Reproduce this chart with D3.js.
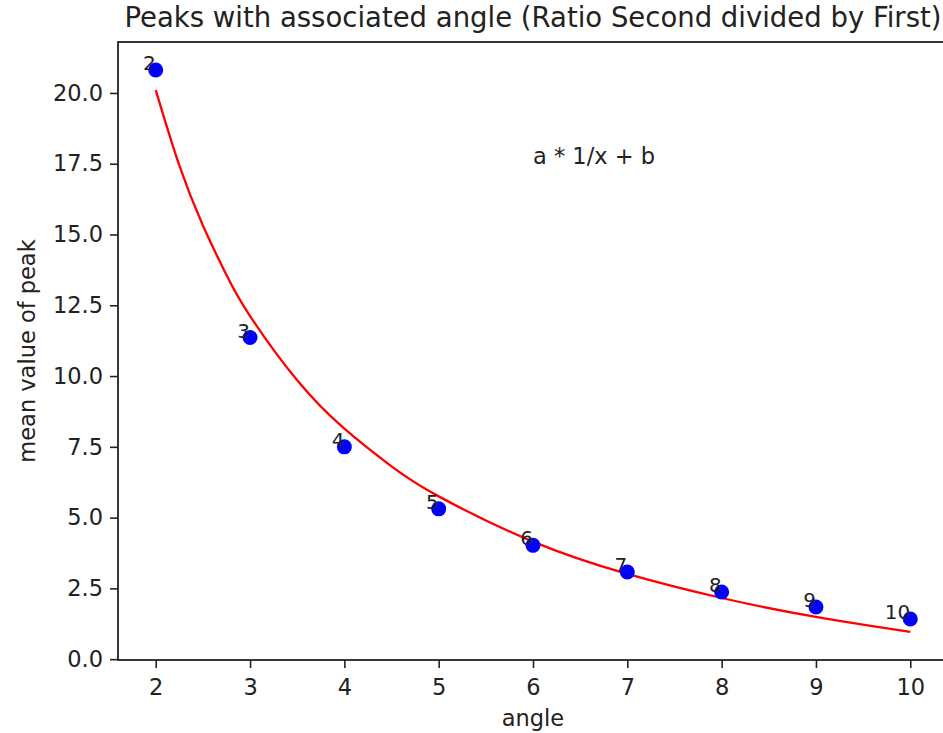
<!DOCTYPE html>
<html>
<head>
<meta charset="utf-8">
<script src="https://cdn.jsdelivr.net/npm/d3@7"></script>
<style>
  body { margin: 0; background: #fff; }
  svg { display: block; font-family: "DejaVu Sans", sans-serif; }
</style>
</head>
<body>
<div id="chart"></div>
<script>
// measured points: angle -> mean value of peak
const angles = [2, 3, 4, 5, 6, 7, 8, 9, 10];
const peakValues = [20.81, 11.36, 7.50, 5.31, 4.02, 3.08, 2.37, 1.84, 1.42];
const pointLabels = ["2", "3", "4", "5", "6", "7", "8", "9", "10"];

// fitted curve a * 1/x + b
const fitX = [2, 2.25, 2.5, 2.75, 3, 3.5, 4, 4.5, 5, 6, 7, 8, 9, 10];
const fitY = [20.10, 17.44, 15.32, 13.57, 12.12, 9.85, 8.14, 6.81, 5.75, 4.15, 3.01, 2.16, 1.49, 0.96];

const xTicks = [2, 3, 4, 5, 6, 7, 8, 9, 10];
const yTicks = [0, 2.5, 5, 7.5, 10, 12.5, 15, 17.5, 20];

const width = 943, height = 733;
const margin = {top: 42, right: -5, bottom: 73, left: 118};
const ink = "#222";

const svg = d3.select("#chart").append("svg")
  .attr("width", width)
  .attr("height", height);

const x = d3.scaleLinear()
  .domain([1.6, 10.4])
  .range([margin.left, width - margin.right]);

const y = d3.scaleLinear()
  .domain([-0.03, 21.8])
  .range([height - margin.bottom, margin.top]);

// axes
const xAxis = g => g
  .attr("transform", `translate(0,${height - margin.bottom})`)
  .call(d3.axisBottom(x).tickValues(xTicks).tickFormat(d3.format("d")).tickSize(8).tickPadding(11).tickSizeOuter(0))
  .call(g => g.select(".domain").remove());

const yAxis = g => g
  .attr("transform", `translate(${margin.left},0)`)
  .call(d3.axisLeft(y).tickValues(yTicks).tickFormat(d3.format(".1f")).tickSize(8).tickPadding(7).tickSizeOuter(0))
  .call(g => g.select(".domain").remove());

svg.append("g").call(xAxis);
svg.append("g").call(yAxis);

svg.selectAll(".tick line").attr("stroke", ink).attr("stroke-width", 1.6);
svg.selectAll(".tick text")
  .attr("fill", ink)
  .attr("font-size", 22.5)
  .attr("font-family", "DejaVu Sans, sans-serif");

// frame
svg.append("rect")
  .attr("x", x(1.6))
  .attr("y", y(21.8))
  .attr("width", x(10.4) - x(1.6))
  .attr("height", y(-0.03) - y(21.8))
  .attr("fill", "none")
  .attr("stroke", ink)
  .attr("stroke-width", 1.8);

// fitted curve
const fitLine = d3.line()
  .x((d, i) => x(fitX[i]))
  .y(d => y(d))
  .curve(d3.curveNatural);

svg.append("path")
  .datum(fitY)
  .attr("fill", "none")
  .attr("stroke", "#f00")
  .attr("stroke-width", 2.3)
  .attr("d", fitLine);

// points
svg.append("g")
  .selectAll("circle")
  .data(peakValues)
  .join("circle")
    .attr("cx", (d, i) => x(angles[i]))
    .attr("cy", d => y(d))
    .attr("r", 7.5)
    .attr("fill", "#0000ff");

svg.append("g")
  .selectAll("text")
  .data(peakValues)
  .join("text")
    .attr("x", (d, i) => x(angles[i]))
    .attr("y", d => y(d))
    .attr("text-anchor", "end")
    .attr("font-size", 20)
    .attr("fill", ink)
    .text((d, i) => pointLabels[i]);

// fit label
svg.append("text")
  .attr("x", x(6))
  .attr("y", y(17.5))
  .attr("font-size", 22.5)
  .attr("fill", ink)
  .text("a * 1/x + b");

// title and axis labels
svg.append("text")
  .attr("x", (x(1.6) + x(10.4)) / 2)
  .attr("y", 27)
  .attr("text-anchor", "middle")
  .attr("font-size", 27.5)
  .attr("fill", ink)
  .text("Peaks with associated angle (Ratio Second divided by First)");

svg.append("text")
  .attr("x", (x(1.6) + x(10.4)) / 2)
  .attr("y", 726)
  .attr("text-anchor", "middle")
  .attr("font-size", 22.5)
  .attr("fill", ink)
  .text("angle");

svg.append("text")
  .attr("transform", `translate(35,${(y(-0.03) + y(21.8)) / 2}) rotate(-90)`)
  .attr("text-anchor", "middle")
  .attr("font-size", 22.5)
  .attr("fill", ink)
  .text("mean value of peak");
</script>
</body>
</html>
